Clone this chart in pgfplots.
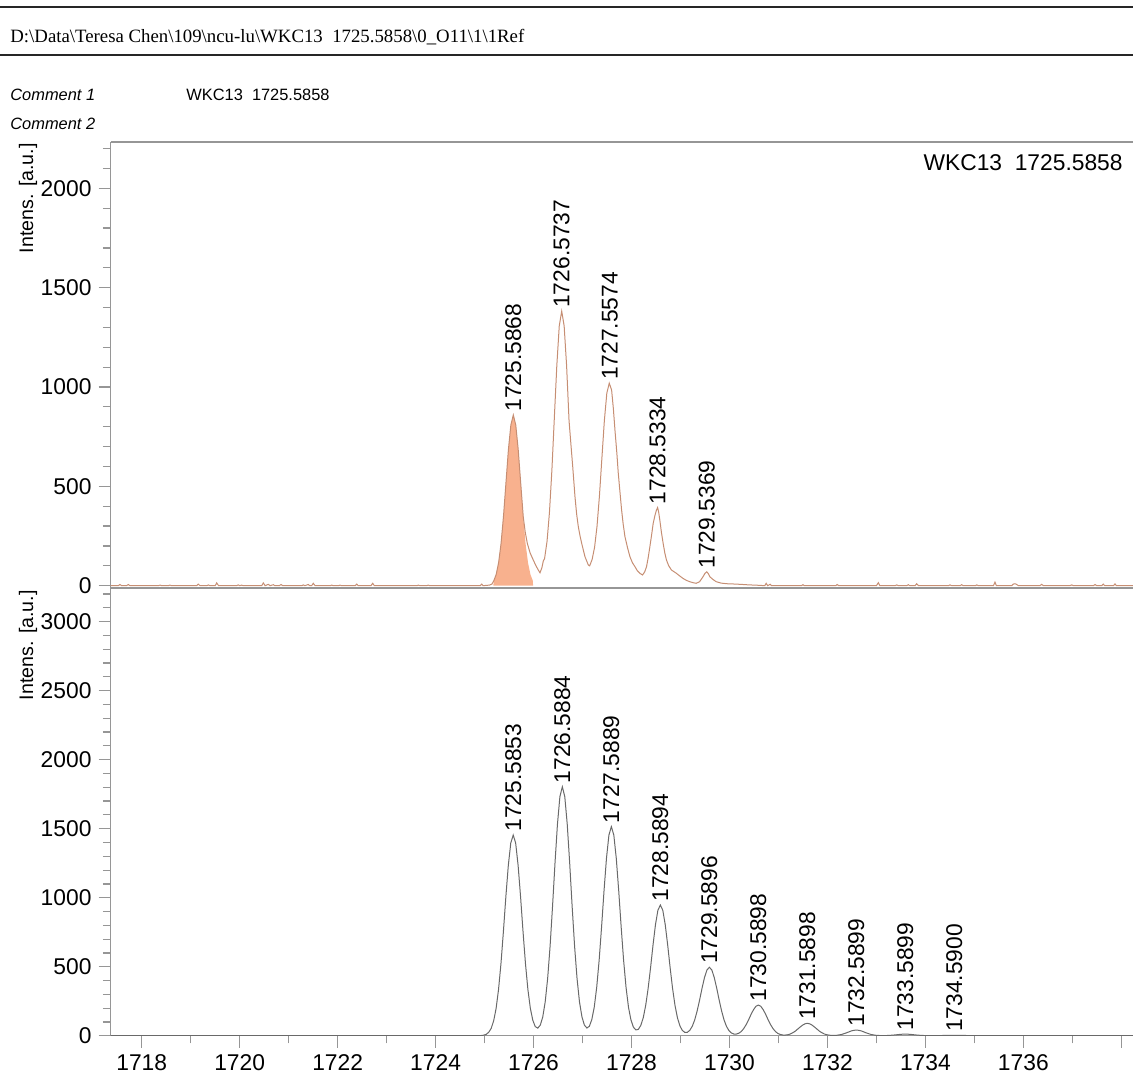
\documentclass[border=0pt]{standalone}
\usepackage{fontspec}
\setmainfont{Liberation Serif}
\newfontfamily\arial{Liberation Sans}
\usepackage{pgfplots}
\pgfplotsset{compat=1.18}

\definecolor{axisgray}{RGB}{150,150,150}
\definecolor{msline}{RGB}{198,142,115}
\definecolor{msfill}{RGB}{248,177,142}
\definecolor{simline}{RGB}{105,105,105}

\newcommand{\lbl}{\arial\fontsize{11.4}{13}\selectfont}

\pgfplotsset{
  msaxis/.style={
    scale only axis, width=511.25pt,
    xmin=1717.363, xmax=1738.239,
    axis x line*=bottom, axis y line*=left,
    axis line style={-, draw=axisgray, line width=0.6pt},
    tick style={draw=axisgray, line width=0.6pt},
    tick align=outside,
    major tick length=6pt, minor tick length=3.8pt,
    ticklabel style={font=\lbl, text=black},
    /pgf/number format/assume math mode=true,
    /pgf/number format/1000 sep={},
    scaled x ticks=false, scaled y ticks=false,
  },
}
\tikzset{peaklabel/.style={yshift=1.5pt, rotate=90, anchor=west, inner sep=0pt, font=\lbl}}

\begin{document}
\begin{tikzpicture}
\useasboundingbox (0,0) rectangle (566.5pt,-537pt);

% header block
\draw[line width=1.1pt, black!85] (0,-3.5pt) -- (566.5pt,-3.5pt);
\draw[line width=1.1pt, black!85] (0,-27.5pt) -- (566.5pt,-27.5pt);
\node[anchor=base west, inner sep=0pt, font=\fontsize{9.4}{11}\selectfont] at (5pt,-21.5pt)
  {D:\textbackslash Data\textbackslash Teresa Chen\textbackslash 109\textbackslash ncu-lu\textbackslash WKC13\ \ 1725.5858\textbackslash 0\_O11\textbackslash 1\textbackslash 1Ref};
\node[anchor=base west, inner sep=0pt, font=\arial\itshape\fontsize{8.2}{10}\selectfont] at (5pt,-50.5pt) {Comment 1};
\node[anchor=base west, inner sep=0pt, font=\arial\fontsize{8.2}{10}\selectfont] at (93pt,-50.5pt) {WKC13\ \ 1725.5858};
\node[anchor=base west, inner sep=0pt, font=\arial\itshape\fontsize{8.2}{10}\selectfont] at (5pt,-65pt) {Comment 2};

% measured spectrum
\begin{axis}[msaxis, at={(55.25pt,-71pt)}, anchor=north west,
  height=223pt, ymin=-11.6, ymax=2233,
  ytick={0,500,...,2000}, minor ytick={100,200,...,2200},
  xtick=\empty]
  \draw[axisgray, line width=0.6pt] (rel axis cs:0,1) -- (rel axis cs:1,1);
  % integrated monoisotopic peak
  \addplot[draw=none, fill=msfill] coordinates {
    (1725.180,0) (1725.187,24) (1725.237,56) (1725.287,116) (1725.337,213)
    (1725.387,351) (1725.437,519) (1725.487,685) (1725.537,809) (1725.587,855)
    (1725.637,809) (1725.687,685) (1725.737,519) (1725.787,351) (1725.837,213)
    (1725.887,116) (1725.937,56) (1725.987,24) (1725.990,0)
  } \closedcycle;
  \addplot[msline, line width=0.5pt] table {
    x y
    1717.363 0
    1717.52 0
    1717.557 6
    1717.59 0
    1717.69 0
    1717.726 6
    1717.76 0
    1718.34 0
    1718.374 3
    1718.41 0
    1718.54 0
    1718.578 3
    1718.61 0
    1719.12 0
    1719.156 8
    1719.19 0
    1719.33 0
    1719.36 4
    1719.39 0
    1719.50 0
    1719.531 14
    1719.57 0
    1719.94 0
    1719.972 4
    1720.00 0
    1720.042 3
    1720.07 0
    1720.45 0
    1720.483 14
    1720.52 0
    1720.585 7
    1720.62 0
    1720.687 5
    1720.72 0
    1720.81 0
    1720.844 6
    1720.88 0
    1721.27 0
    1721.299 4
    1721.33 0
    1721.401 6
    1721.43 0
    1721.47 0
    1721.503 12
    1721.54 0
    1721.85 0
    1721.879 3
    1721.91 0
    1722.02 0
    1722.049 3
    1722.08 0
    1722.36 0
    1722.39 8
    1722.42 0
    1722.68 0
    1722.716 12
    1722.75 0
    1723.62 0
    1723.647 3
    1723.68 0
    1723.82 0
    1723.851 3
    1723.88 0
    1724.91 0
    1724.942 8
    1724.97 0
    1725.10 3
    1725.15 8
    1725.187 24
    1725.237 56
    1725.287 116
    1725.337 213
    1725.387 351
    1725.437 519
    1725.487 685
    1725.537 809
    1725.587 859
    1725.637 809
    1725.687 685
    1725.737 519
    1725.790 347
    1725.830 270
    1725.873 213
    1725.930 165
    1725.995 129
    1726.050 100
    1726.097 79
    1726.132 65
    1726.170 90
    1726.200 125
    1726.225 136
    1726.275 222
    1726.325 369
    1726.375 583
    1726.425 847
    1726.475 1107
    1726.525 1307
    1726.575 1382
    1726.625 1307
    1726.675 1107
    1726.725 830
    1726.770 690
    1726.800 599
    1726.846 448
    1726.880 360
    1726.914 297
    1726.950 250
    1726.983 213
    1727.050 146
    1727.118 104
    1727.146 100
    1727.196 132
    1727.246 193
    1727.296 299
    1727.346 454
    1727.396 644
    1727.446 831
    1727.496 969
    1727.546 1019
    1727.594 985
    1727.630 890
    1727.662 784
    1727.700 670
    1727.730 566
    1727.765 470
    1727.798 381
    1727.830 310
    1727.866 247
    1727.920 190
    1727.968 146
    1728.020 115
    1728.070 96
    1728.120 75
    1728.172 62
    1728.226 54
    1728.270 70
    1728.307 96
    1728.340 140
    1728.375 196
    1728.410 255
    1728.443 314
    1728.480 355
    1728.510 381
    1728.533 393
    1728.555 370
    1728.578 331
    1728.610 270
    1728.646 213
    1728.680 165
    1728.714 129
    1728.760 100
    1728.816 79
    1728.918 62
    1728.980 50
    1729.050 37
    1729.120 27
    1729.190 20
    1729.260 15
    1729.320 12
    1729.390 20
    1729.460 45
    1729.500 62
    1729.537 70
    1729.570 60
    1729.600 45
    1729.660 32
    1729.730 20
    1729.830 13
    1729.940 10
    1730.140 8
    1730.410 4
    1730.600 2
    1730.720 0
    1730.750 12
    1730.780 0
    1730.830 7
    1730.860 0
    1731.470 0
    1731.500 5
    1731.530 0
    1732.170 0
    1732.200 6
    1732.230 0
    1733.000 0
    1733.039 15
    1733.070 0
    1733.380 0
    1733.414 4
    1733.450 0
    1733.620 0
    1733.651 5
    1733.680 0
    1733.790 0
    1733.823 10
    1733.860 0
    1734.470 0
    1734.503 4
    1734.540 0
    1734.710 0
    1734.741 5
    1734.770 0
    1735.020 0
    1735.048 4
    1735.080 0
    1735.390 0
    1735.421 18
    1735.450 0
    1735.760 0
    1735.795 8
    1735.830 10
    1735.864 6
    1735.900 0
    1736.340 0
    1736.375 7
    1736.410 0
    1736.950 0
    1736.987 4
    1737.020 0
    1737.430 0
    1737.463 6
    1737.500 0
    1737.600 0
    1737.632 8
    1737.660 0
    1737.840 0
    1737.871 9
    1737.900 0
    1738.239 0
  };
  \node[peaklabel] at (axis cs:1725.5868,859) {1725.5868};
  \node[peaklabel] at (axis cs:1726.5737,1382) {1726.5737};
  \node[peaklabel] at (axis cs:1727.5574,1019) {1727.5574};
  \node[peaklabel] at (axis cs:1728.5334,393) {1728.5334};
  \node[peaklabel] at (axis cs:1729.5369,70) {1729.5369};
\end{axis}

% simulated isotope pattern
\begin{axis}[msaxis, at={(55.25pt,-294pt)}, anchor=north west,
  height=223.85pt, ymin=0, ymax=3244,
  ytick={0,500,...,3000}, minor ytick={100,200,...,3200},
  xtick={1718,1720,...,1738},
  xticklabels={1718,1720,1722,1724,1726,1728,1730,1732,1734,1736,{}},
  minor xtick={1719,1721,...,1737}]
  \addplot[simline, line width=0.5pt] table {
    x y
    1717.363 0
    1724.90 0
    1724.985 4
    1725.035 10
    1725.085 25
    1725.135 53
    1725.185 107
    1725.235 196
    1725.285 334
    1725.335 523
    1725.385 756
    1725.435 1008
    1725.485 1234
    1725.535 1396
    1725.585 1454
    1725.635 1396
    1725.685 1234
    1725.735 1008
    1725.785 756
    1725.835 523
    1725.885 334
    1725.935 198
    1725.985 112
    1726.035 66
    1726.087 55
    1726.138 77
    1726.188 136
    1726.238 245
    1726.288 415
    1726.338 649
    1726.388 938
    1726.438 1250
    1726.488 1532
    1726.538 1732
    1726.588 1804
    1726.638 1732
    1726.688 1532
    1726.738 1250
    1726.788 938
    1726.838 649
    1726.888 415
    1726.938 245
    1726.988 137
    1727.038 77
    1727.089 56
    1727.139 68
    1727.189 116
    1727.239 206
    1727.289 349
    1727.339 545
    1727.389 788
    1727.439 1050
    1727.489 1286
    1727.539 1454
    1727.589 1515
    1727.639 1454
    1727.689 1286
    1727.739 1050
    1727.789 788
    1727.839 545
    1727.889 349
    1727.939 205
    1727.989 114
    1728.039 62
    1728.089 42
    1728.139 46
    1728.189 74
    1728.239 129
    1728.289 218
    1728.339 341
    1728.389 492
    1728.439 656
    1728.489 804
    1728.539 909
    1728.589 947
    1728.639 909
    1728.689 804
    1728.739 656
    1728.789 492
    1728.839 341
    1728.889 218
    1728.939 128
    1728.989 71
    1729.039 38
    1729.089 24
    1729.140 25
    1729.190 39
    1729.240 68
    1729.290 114
    1729.340 179
    1729.390 258
    1729.440 344
    1729.490 421
    1729.540 476
    1729.590 496
    1729.640 476
    1729.690 421
    1729.740 344
    1729.790 258
    1729.840 179
    1729.890 114
    1729.940 67
    1729.990 37
    1730.040 20
    1730.090 12
    1730.140 12
    1730.190 18
    1730.240 30
    1730.290 51
    1730.340 80
    1730.390 115
    1730.440 154
    1730.490 188
    1730.540 213
    1730.590 222
    1730.640 213
    1730.690 188
    1730.740 154
    1730.790 115
    1730.840 80
    1730.890 51
    1730.940 30
    1730.990 16
    1731.040 9
    1731.090 5
    1731.140 5
    1731.190 7
    1731.240 12
    1731.290 21
    1731.340 32
    1731.390 47
    1731.440 62
    1731.490 76
    1731.540 86
    1731.590 90
    1731.640 86
    1731.690 76
    1731.740 62
    1731.790 47
    1731.840 32
    1731.890 21
    1731.940 12
    1731.990 7
    1732.040 4
    1732.090 2
    1732.190 3
    1732.290 9
    1732.390 21
    1732.490 35
    1732.540 39
    1732.590 41
    1732.640 39
    1732.690 35
    1732.790 21
    1732.890 9
    1732.990 3
    1733.090 1
    1733.190 1
    1733.290 3
    1733.390 6
    1733.490 10
    1733.590 12
    1733.690 10
    1733.790 6
    1733.890 3
    1733.990 1
    1734.290 1
    1734.390 2
    1734.490 2.5
    1734.590 3
    1734.690 2.5
    1734.790 2
    1734.890 1
    1734.990 0
    1738.239 0
  };
  \node[peaklabel] at (axis cs:1725.5853,1454) {1725.5853};
  \node[peaklabel] at (axis cs:1726.5884,1804) {1726.5884};
  \node[peaklabel] at (axis cs:1727.5889,1515) {1727.5889};
  \node[peaklabel] at (axis cs:1728.5894,947) {1728.5894};
  \node[peaklabel] at (axis cs:1729.5896,496) {1729.5896};
  \node[peaklabel] at (axis cs:1730.5898,222) {1730.5898};
  \node[peaklabel] at (axis cs:1731.5898,90) {1731.5898};
  \node[peaklabel] at (axis cs:1732.5899,41) {1732.5899};
  \node[peaklabel] at (axis cs:1733.5899,12) {1733.5899};
  \node[peaklabel] at (axis cs:1734.5900,3) {1734.5900};
\end{axis}

% axis captions and spectrum title
\node[rotate=90, anchor=base east, inner sep=0pt, font=\arial\fontsize{9.8}{12}\selectfont] at (16.5pt,-71.5pt) {Intens. [a.u.]};
\node[rotate=90, anchor=base east, inner sep=0pt, font=\arial\fontsize{9.8}{12}\selectfont] at (16.5pt,-295pt) {Intens. [a.u.]};
\node[anchor=east, inner sep=0pt, font=\lbl] at (561.5pt,-81.5pt) {WKC13\ \ 1725.5858};
\end{tikzpicture}
\end{document}
